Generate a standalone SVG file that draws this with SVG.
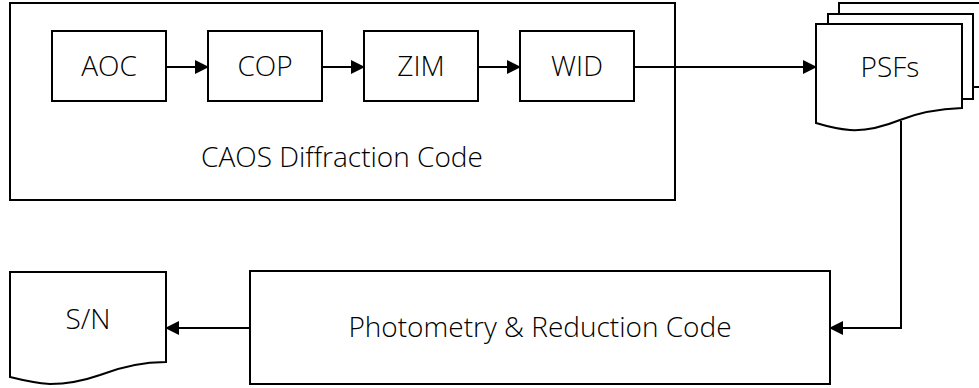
<svg xmlns="http://www.w3.org/2000/svg" width="979" height="388" viewBox="0 0 979 388">
<style>
.box{fill:#fff;stroke:#000;stroke-width:2}
.lbl{font-family:"Open Sans","Liberation Sans",sans-serif;font-weight:300;font-size:28px;fill:#000;text-anchor:middle}
.edge{fill:none;stroke:#000;stroke-width:2}
</style>
<defs>
<marker id="arr" viewBox="0 0 14 14" refX="13" refY="7" markerWidth="14" markerHeight="14" markerUnits="userSpaceOnUse" orient="auto">
<path d="M0,0 L14,7 L0,14 Z" fill="#000"/>
</marker>
</defs>
<rect width="979" height="388" fill="#fff"/>
<g id="caos">
<rect class="box" x="10" y="3" width="665" height="197"/>
<text class="lbl" x="342" y="167">CAOS Diffraction Code</text>
</g>
<g id="aoc"><rect class="box" x="52" y="31" width="114" height="70"/><text class="lbl" x="109" y="76">AOC</text></g>
<g id="cop"><rect class="box" x="208" y="31" width="114" height="70"/><text class="lbl" x="265" y="76">COP</text></g>
<g id="zim"><rect class="box" x="364" y="31" width="114" height="70"/><text class="lbl" x="421" y="76">ZIM</text></g>
<g id="wid"><rect class="box" x="520" y="31" width="114" height="70"/><text class="lbl" x="577" y="76">WID</text></g>
<g id="psfs">
<path class="box" d="M839,87 V3 H984 V87 Z"/>
<path class="box" d="M828,99 V14 H973 V99 Z"/>
<path class="box" d="M816,123 V24 H962 V108 C935,109 915,114 900,120 C880,128 865,131 850,130 C838,129 826,126 816,123 Z"/>
<text class="lbl" x="890" y="77">PSFs</text>
</g>
<g id="photometry">
<rect class="box" x="250" y="271" width="580" height="113"/>
<text class="lbl" x="540" y="337">Photometry &amp; Reduction Code</text>
</g>
<g id="sn">
<path class="box" d="M10,377 V272 H166 V362 C140,362 118,368 100,375 C80,382 65,384 50,384 C35,383 22,380 10,377 Z"/>
<text class="lbl" x="88" y="329">S/N</text>
</g>
<g id="connectors">
<path class="edge" d="M166,67 H208" marker-end="url(#arr)"/>
<path class="edge" d="M322,67 H364" marker-end="url(#arr)"/>
<path class="edge" d="M478,67 H520" marker-end="url(#arr)"/>
<path class="edge" d="M634,67 H816" marker-end="url(#arr)"/>
<path class="edge" d="M901,121 V328 H830" marker-end="url(#arr)"/>
<path class="edge" d="M250,328 H166" marker-end="url(#arr)"/>
</g>
</svg>
